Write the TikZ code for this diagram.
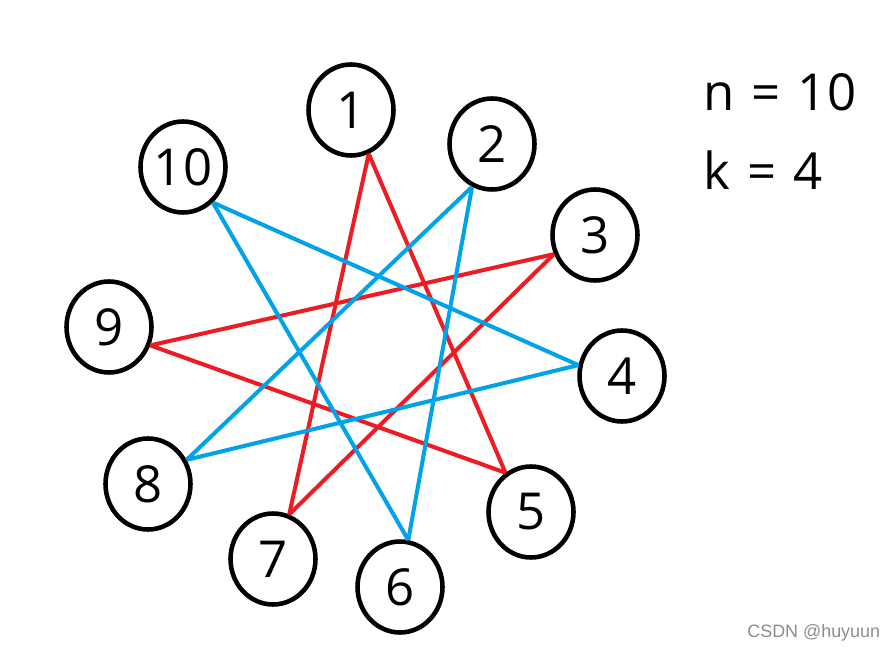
\documentclass[tikz,border=0pt]{standalone}
\usepackage{fontspec}
\setmainfont{Open Sans}
\newfontfamily\markfont{Liberation Sans}
\usetikzlibrary{shapes.geometric}

\definecolor{paintred}{HTML}{ED1C24}
\definecolor{paintblue}{HTML}{00A2E8}

\tikzset{
    vertex/.style={ellipse, draw=black, line width=2.6pt, inner sep=0pt,
        minimum width=1.7cm, minimum height=1.82cm,
        font=\fontsize{29}{31}\selectfont},
    redline/.style={paintred, line width=2.3pt},
    blueline/.style={paintblue, line width=2.3pt}
}

\begin{document}
\begin{tikzpicture}[x=0.02cm,y=-0.02cm]

\useasboundingbox (0,0) rectangle (895,651);

% the ten vertices
\foreach \i/\x/\y in {1/351/110, 2/492/144, 3/595/235, 4/622/376, 5/531/512,
                       6/400/587, 7/273/559, 8/148/484, 9/109/327, 10/183/167} {
    \node[vertex] (v\i) at (\x,\y) {\i};
}

% where the lines touch the circles
\foreach \i/\a in {1/-68, 2/-115, 3/-155, 4/166, 5/123,
                   6/80, 7/70, 8/32, 9/-24, 10/-50} {
    \coordinate (p\i) at (v\i.\a);
}

\foreach \a/\b in {1/7, 1/5, 9/3, 9/5, 3/7} {
    \draw[redline] (p\a) -- (p\b);
}
\foreach \a/\b in {10/4, 10/6, 2/8, 2/6, 4/8} {
    \draw[blueline] (p\a) -- (p\b);
}

\node[anchor=base west, font=\fontsize{29}{31}\selectfont, inner sep=0pt] (n) at (703,111) {n\hspace{2.2pt} =\hspace{2.2pt} 10};
\node[anchor=base west, font=\fontsize{29}{31}\selectfont, inner sep=0pt] (k) at (703,190) {k\hspace{2.2pt} =\hspace{2.2pt} 4};

\node[anchor=base west, font=\markfont\fontsize{10.2}{12}\selectfont, text=black!45, inner sep=0pt] (mark) at (747,637) {CSDN @huyuun};

\end{tikzpicture}
\end{document}
